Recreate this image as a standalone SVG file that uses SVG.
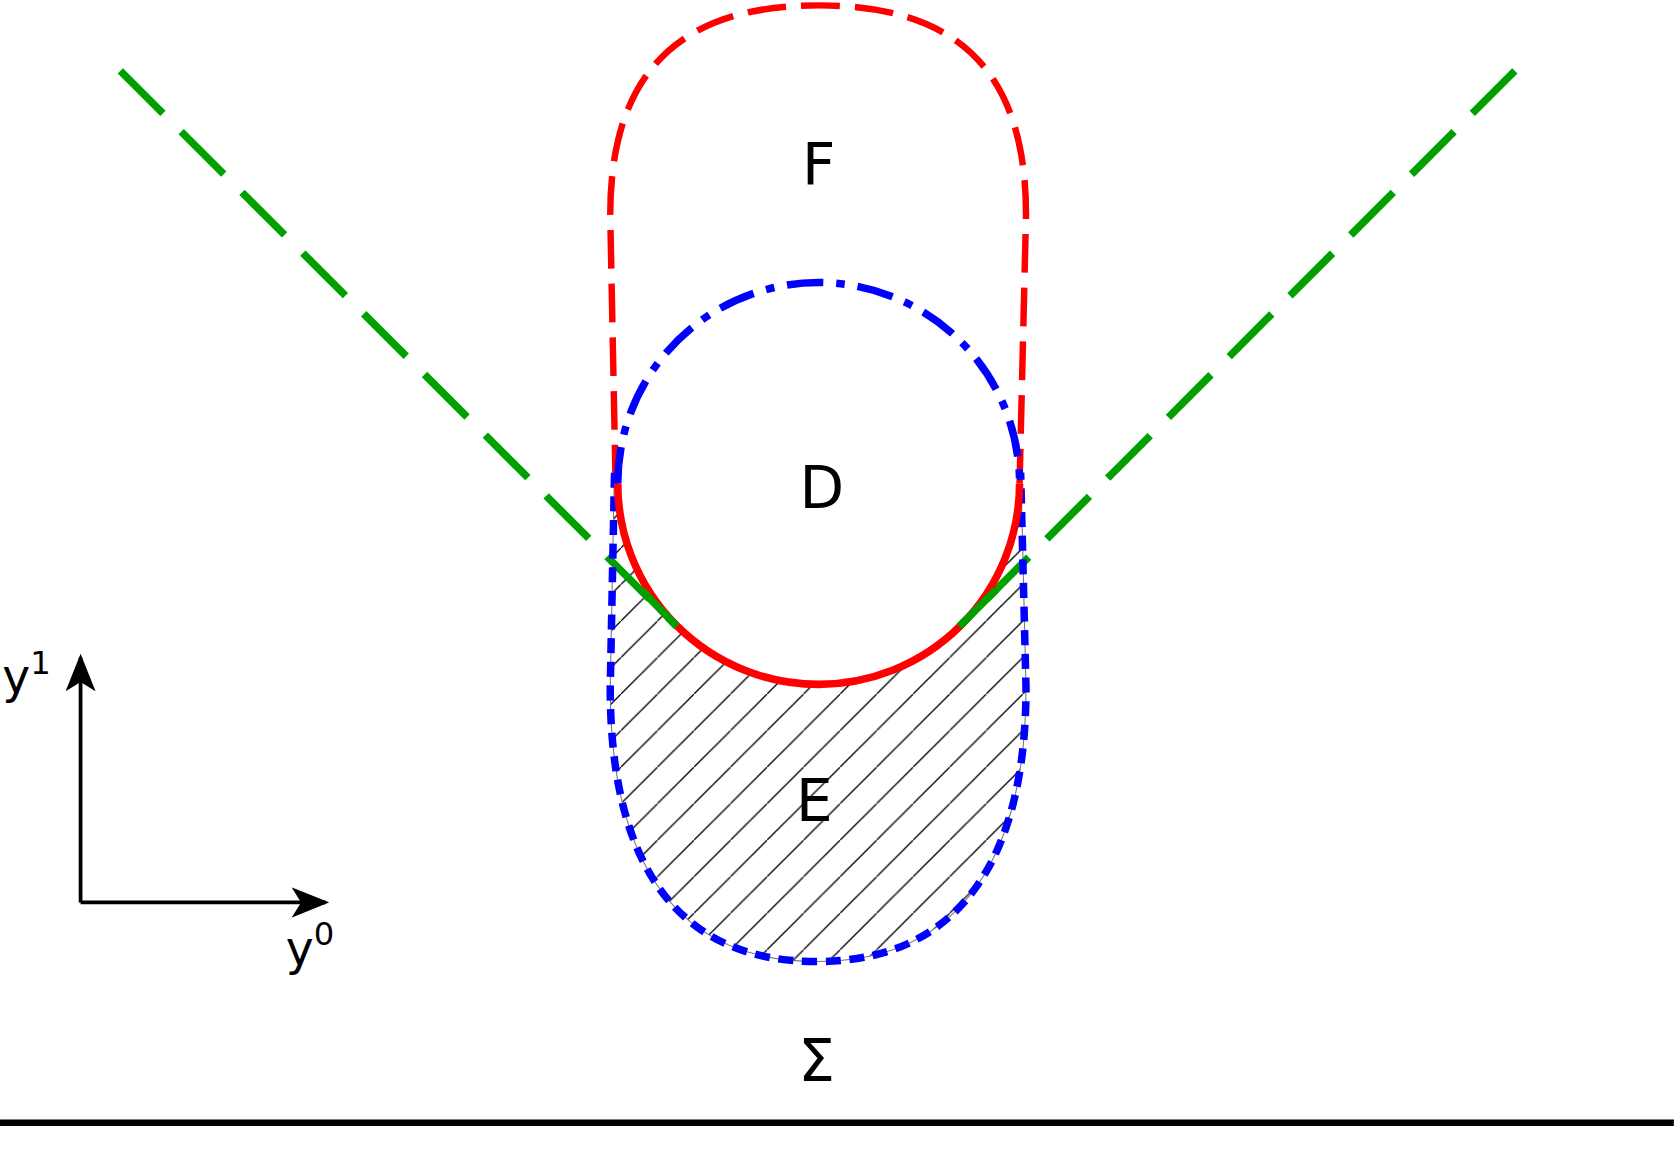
<svg xmlns="http://www.w3.org/2000/svg" width="1676" height="1164" viewBox="0 0 1676 1164">
<style>
.t{font-family:"DejaVu Sans",sans-serif;font-size:54px;fill:#000;text-anchor:middle}
.s{font-family:"DejaVu Sans",sans-serif;font-size:44px;fill:#000}
.g{stroke:#00a000;stroke-width:7;fill:none;stroke-dasharray:56 24}
</style>
<defs>
<pattern id="h" patternUnits="userSpaceOnUse" width="34" height="34">
<line x1="-2" y1="36" x2="36" y2="-2" stroke="#000" stroke-width="1.2"/>
</pattern>
<marker id="a" markerWidth="10" markerHeight="8" refX="9" refY="4" orient="auto" markerUnits="strokeWidth">
<path d="M0,0 L10,4 L0,8 L2.5,4 Z" fill="#000"/>
</marker>
</defs>
<g transform="scale(1.07436)">
<g id="E-region">
<path d="M572 430 L568 640 C568 790 620 895 760 895 C900 895 955 790 955 640 L950 430 Z" fill="url(#h)" stroke="#777" stroke-width="1"/>
<circle cx="762" cy="450" r="187" fill="#fff"/>
</g>
<g id="connectors">
<path class="g" d="M112 66 L630 583"/>
<path class="g" d="M1410 66 L893 583"/>
<line x1="0" y1="1045" x2="1558" y2="1045" stroke="#000" stroke-width="6"/>
<line x1="75" y1="840" x2="75" y2="612" stroke="#000" stroke-width="3.5" marker-end="url(#a)"/>
<line x1="75" y1="840" x2="303" y2="840" stroke="#000" stroke-width="3.5" marker-end="url(#a)"/>
</g>
<g id="F">
<path d="M573 450 L568 200 C568 60 640 5 762 5 C885 5 955 60 955 200 L949 450" fill="none" stroke="#f00" stroke-width="6" stroke-dasharray="36 14"/>
<text class="t" x="762" y="172">F</text>
</g>
<g id="E">
<path d="M572 440 L568 640 C568 790 620 895 760 895 C900 895 955 790 955 640 L950 440" fill="none" stroke="#00f" stroke-width="7" stroke-dasharray="14 8"/>
<text class="t" x="758" y="764">E</text>
</g>
<g id="D">
<path d="M575 450 A187 187 0 0 1 949 450" fill="none" stroke="#00f" stroke-width="7" stroke-dasharray="34 12 8 12"/>
<path d="M575 450 A187 187 0 0 0 949 450" fill="none" stroke="#f00" stroke-width="7"/>
<path d="M597 549 L630 583" stroke="#00a000" stroke-width="7"/>
<path d="M927 549 L893 583" stroke="#00a000" stroke-width="7"/>
<text class="t" x="765" y="473">D</text>
</g>
<g id="Sigma"><text class="t" x="760" y="1006">Σ</text></g>
<g id="axes-labels">
<text class="s" x="2" y="645">y<tspan font-size="30" dy="-18">1</tspan></text>
<text class="s" x="266" y="898">y<tspan font-size="30" dy="-18">0</tspan></text>
</g>
</g>
</svg>
